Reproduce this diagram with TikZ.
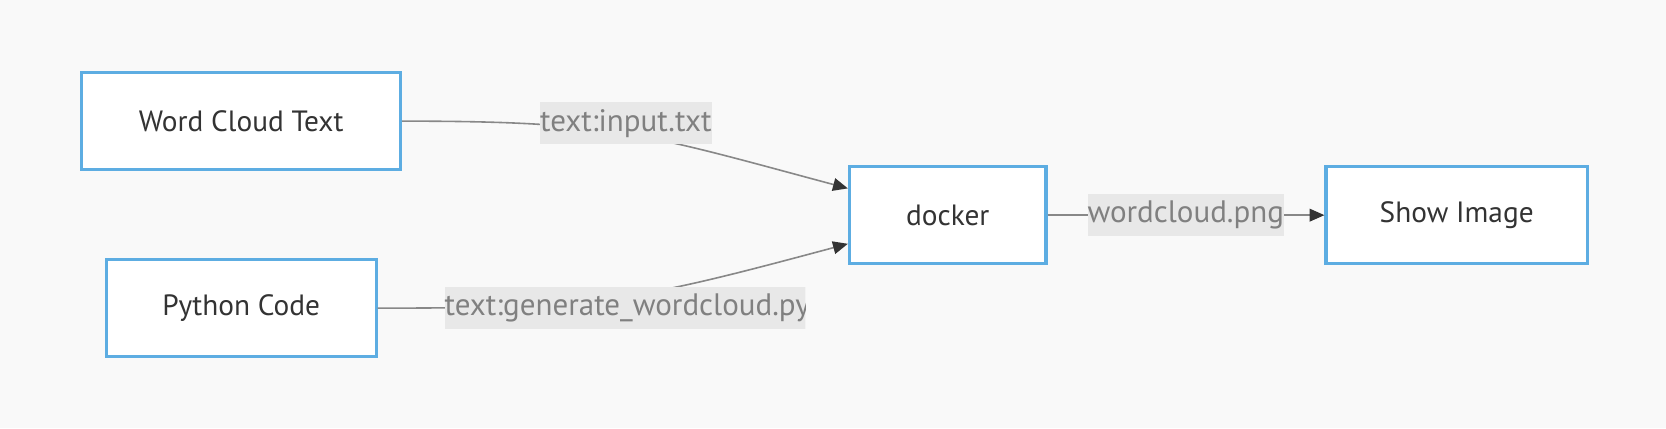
\documentclass[tikz,border=0pt]{standalone}
\usepackage{fontspec}
\setmainfont{PT Sans}
\usetikzlibrary{arrows.meta}

\definecolor{PageGray}{RGB}{249,249,249}
\definecolor{BoxBlue}{RGB}{93,173,226}
\definecolor{BoxText}{RGB}{51,51,51}
\definecolor{EdgeGray}{RGB}{136,136,136}
\definecolor{TipGray}{RGB}{51,51,51}
\definecolor{LabelFill}{RGB}{232,232,232}
\definecolor{LabelText}{RGB}{128,128,128}

\begin{document}
\begin{tikzpicture}[x=0.5pt,y=0.5pt]
\tikzstyle{every node}=[font=\fontsize{13.8}{16}\selectfont]
\tikzstyle{box}=[draw=BoxBlue, line width=1.5pt, fill=white, text=BoxText, minimum height=45.5pt, inner sep=0pt]
\tikzstyle{edge}=[draw=EdgeGray, line width=0.75pt, -{Triangle[length=7pt,width=6pt,color=TipGray]}]
\tikzstyle{edgelabel}=[fill=LabelFill, text=LabelText, inner xsep=0pt, minimum height=19pt, font=\fontsize{14.6}{16}\selectfont]

\fill[PageGray] (0,0) rectangle (1568,403);
\useasboundingbox (0,0) rectangle (1568,403);

\node[box, minimum width=150pt] (WordCloudText) at (227,289) {Word Cloud Text};
\node[box, minimum width=127pt] (PythonCode) at (227,113) {Python Code};
\node[box, minimum width=92.5pt] (Docker) at (892,200.5) {docker};
\node[box, minimum width=123pt] (ShowImage) at (1371,200.5) {Show Image};

\draw[edge] (WordCloudText.east) to[out=0,in=165,looseness=1.2] (Docker.165);
\draw[edge] (PythonCode.east) to[out=0,in=195,looseness=1.2] (Docker.196);
\draw[edge] (Docker.east) -- (ShowImage.west);

\node[edgelabel] (InputLabel) at (589,287) {text:input.txt};
\node[edgelabel] (PngLabel) at (1116,200.5) {wordcloud.png};
\node[edgelabel, minimum width=169.5pt] (CodeLabel) at (588,113) {};
\begin{scope}
\clip (CodeLabel.south west) rectangle (CodeLabel.north east);
\node[edgelabel, anchor=west] (CodeLabelText) at (CodeLabel.west) {text:generate\_wordcloud.py};
\end{scope}
\end{tikzpicture}
\end{document}
